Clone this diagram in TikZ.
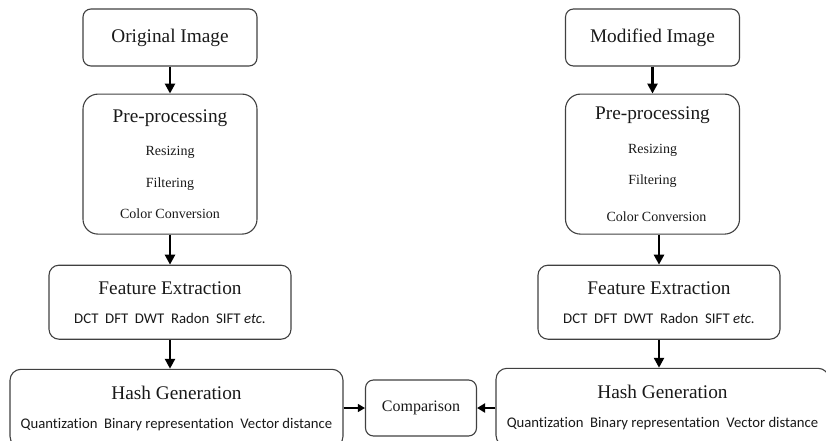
\documentclass[tikz,border=0pt]{standalone}
\usepackage{fontspec}
\setmainfont{Liberation Serif}
\newfontfamily\calfont[Ligatures=NoCommon]{Carlito}
\usetikzlibrary{arrows.meta,positioning,calc}
\newcommand{\hdsz}{\rmfamily\fontsize{19.3}{23}\selectfont}

\begin{document}
\begin{tikzpicture}[x=1pt, y=1pt,
  box/.style={draw=black!75, line width=1.1pt, rounded corners=8pt, align=center, inner sep=0pt, text=black!90},
  imgbox/.style={box, minimum width=174pt, minimum height=57pt, font=\hdsz},
  prebox/.style={box, rounded corners=15pt, minimum width=174pt, minimum height=140pt, font=\fontsize{14}{31.5}\selectfont},
  featbox/.style={box, rounded corners=10pt, minimum width=242pt, minimum height=74pt, font=\calfont\fontsize{14.8}{29}\selectfont},
  hashbox/.style={box, rounded corners=11pt, minimum width=333pt, minimum height=78pt, font=\calfont\fontsize{14.7}{28.5}\selectfont},
  cmpbox/.style={box, minimum width=111pt, minimum height=56pt, font=\fontsize{16}{19}\selectfont},
  arrow/.style={-{Triangle[length=10pt,width=10pt]}, line width=2.6pt},
  cmparrow/.style={-{Triangle[length=7pt,width=8pt]}, line width=1.2pt}
]
\useasboundingbox (0,0) rectangle (826,-441);
\clip (0,0) rectangle (826,-441);

% original image side
\node[imgbox] (orig) at (170,-37.5) {Original Image};
\node[prebox, below=27pt of orig] (preL) {{\hdsz Pre-processing}\\[2pt] Resizing\\ Filtering\\ Color Conversion};
\node[featbox, below=30pt of preL] (featL) {{\hdsz Feature Extraction}\\ DCT~ DFT~ DWT~ Radon~ SIFT \textit{etc.}};
\node[hashbox, below=29pt of featL, xshift=6.5pt] (hashL) {{\hdsz Hash Generation}\\ Quantization~ Binary representation~ Vector distance};

% modified image side
\node[imgbox] (mod) at (652.5,-37.5) {Modified Image};
\node[prebox, below=27pt of mod] (preR) {{\hdsz Pre-processing}\\[2pt] Resizing\\ Filtering\\[5pt] \hspace*{8pt}Color Conversion};
\node[featbox, below=30pt of preR, xshift=6.5pt] (featR) {{\hdsz Feature Extraction}\\ DCT~ DFT~ DWT~ Radon~ SIFT \textit{etc.}};
\node[hashbox, below=28pt of featR, xshift=3.5pt] (hashR) {{\hdsz Hash Generation}\\ Quantization~ Binary representation~ Vector distance};

\node[cmpbox] (comp) at (421,-408) {Comparison};

\draw[arrow] (orig) -- (preL);
\draw[arrow] (preL) -- (featL);
\draw[arrow] (featL) -- (featL |- hashL.north);
\draw[arrow] (mod) -- (preR);
\draw[arrow] (featR |- preR.south) -- (featR);
\draw[arrow] (featR) -- (featR |- hashR.north);
\draw[cmparrow] (hashL.east |- comp) -- (comp);
\draw[arrow, -{Triangle[length=8pt,width=9pt]}, line width=2.2pt] (hashR.west |- comp) -- (comp);
\end{tikzpicture}
\end{document}
